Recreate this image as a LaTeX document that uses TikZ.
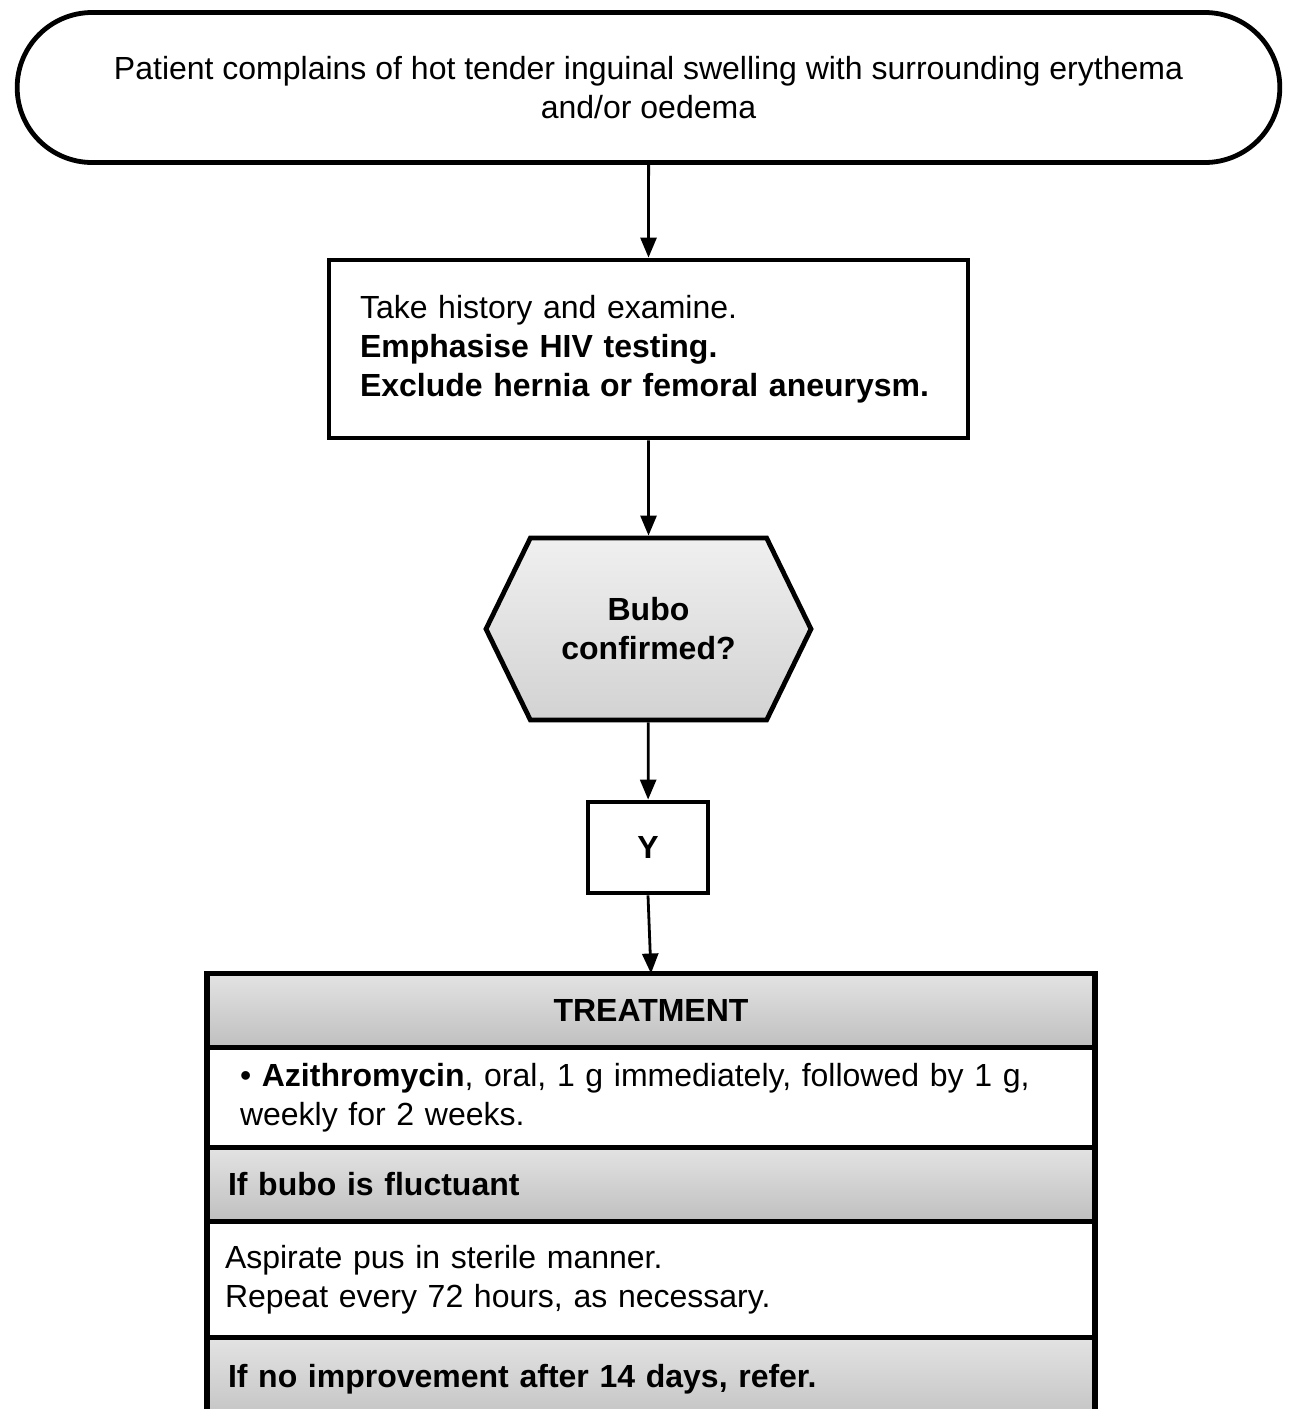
\documentclass[tikz,border=0pt]{standalone}
\usepackage{fontspec}
\setmainfont{Liberation Sans}
\usepackage{tikz}
\usetikzlibrary{shapes,arrows.meta,positioning}
\newcommand\flowfont{\fontsize{16pt}{19.5pt}\selectfont}
\tikzset{
  every node/.style={
    font=\flowfont
  },
  flowline/.style={
    line width=1.4pt,
    -{Triangle[length=10pt,width=8pt]}
  },
  terminal/.style={
    shape=rounded rectangle,
    draw,
    line width=2.4pt,
    minimum width=638pt,
    minimum height=75pt,
    align=center
  },
  process/.style={
    shape=rectangle,
    draw,
    line width=2.4pt,
    minimum width=319.5pt,
    minimum height=89pt,
    text width=288.5pt,
    inner xsep=15.5pt,
    align=left
  },
  decision/.style={
    shape=signal,
    signal to=east and west,
    signal pointer angle=128,
    draw,
    line width=2.4pt,
    top color=gray!12,
    bottom color=gray!35,
    minimum width=162.5pt,
    minimum height=91pt,
    align=center,
    font=\flowfont\bfseries
  },
  answer/.style={
    shape=rectangle,
    draw,
    line width=2.4pt,
    minimum width=60pt,
    minimum height=45.5pt,
    font=\flowfont\bfseries
  },
  tablehead/.style={
    shape=rectangle,
    draw,
    line width=2.6pt,
    outer sep=0pt,
    top color=gray!22,
    bottom color=gray!50,
    minimum width=444pt,
    text width=#1,
    inner xsep=(444pt-#1)/2,
    minimum height=37pt,
    font=\flowfont\bfseries
  },
  tablerow/.style={
    shape=rectangle,
    draw,
    line width=2.6pt,
    outer sep=0pt,
    fill=white,
    minimum width=444pt,
    text width=#1,
    inner xsep=(444pt-#1)/2,
    align=left
  }
}

\begin{document}
\begin{tikzpicture}[x=0.5pt,y=-0.5pt]
\useasboundingbox (0,0) rectangle (1289,1409);
\clip (0,0) rectangle (1289,1409);

\node [terminal] (start) at (648.5,87.5) {
  Patient complains of hot tender inguinal swelling with surrounding erythema\\
  and/or oedema
};
\node [process] (history) at (648.5,349) {
  Take history and examine.\\
  \textbf{Emphasise HIV testing.}\\
  \textbf{Exclude hernia or femoral aneurysm.}
};
\node [decision] (bubo) at (648.5,629) { Bubo\\confirmed? };
\node [answer] (yes) at (648,847.5) { Y };

\node [tablehead=400pt, align=center] (head) at (651,1010.5) { TREATMENT };
\node [tablerow=411pt, minimum height=50pt, below=0pt of head] (dose) {
  \textbullet\ \textbf{Azithromycin}, oral, 1 g immediately, followed by 1 g,\\
  weekly for 2 weeks.
};
\node [tablehead=423pt, align=left, below=0pt of dose] (fluct) { If bubo is fluctuant };
\node [tablerow=426pt, minimum height=58pt, below=0pt of fluct] (aspirate) {
  Aspirate pus in sterile manner.\\
  Repeat every 72 hours, as necessary.
};
\node [tablehead=423pt, align=left, minimum height=46pt, text depth=8pt, below=0pt of aspirate] (refer) {
  If no improvement after 14 days, refer.
};

\draw [flowline] (start) -- (history);
\draw [flowline] (history) -- (bubo);
\draw [flowline] (bubo) -- (yes);
\draw [flowline] (yes.south) -- (head.north);

\end{tikzpicture}
\end{document}
